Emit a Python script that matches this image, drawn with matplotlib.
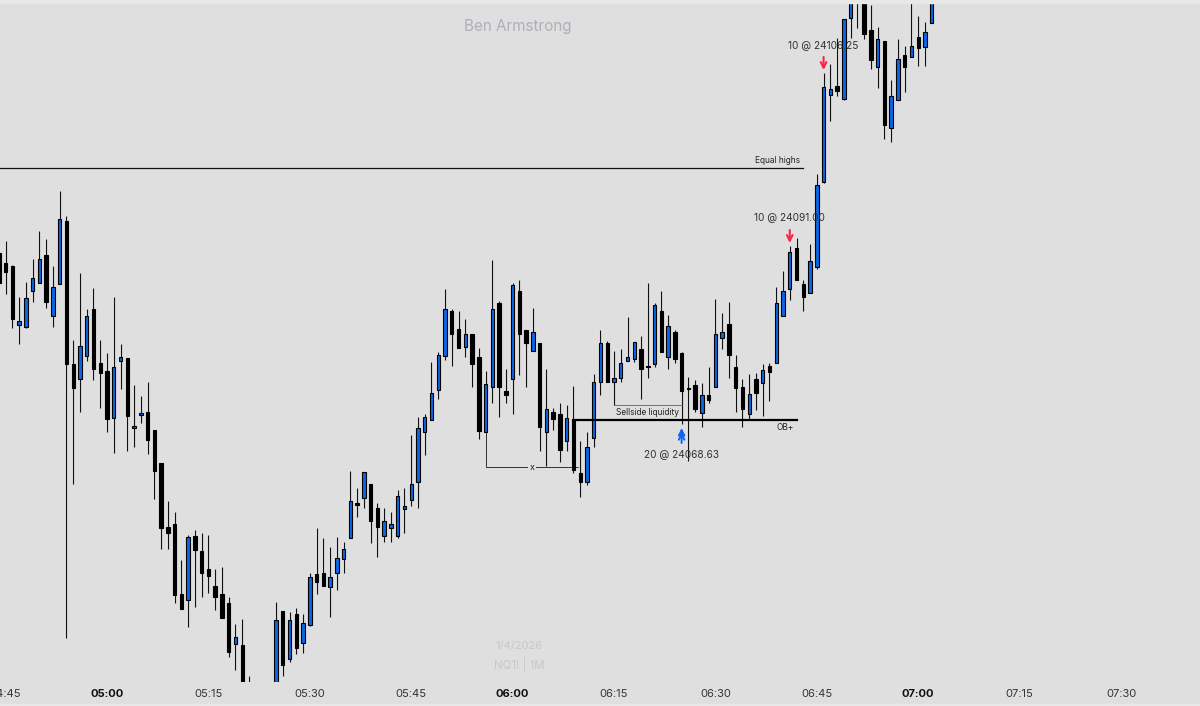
import matplotlib
matplotlib.use("Agg")
import matplotlib.pyplot as plt
import matplotlib.patheffects as pe
from matplotlib.patches import Rectangle

plt.rcParams['font.family'] = ['Inter', 'DejaVu Sans']

# Minutes since midnight. The minutes 322-324 are below the visible range.
bar_minute = list(range(284, 322)) + list(range(325, 423))

# 1 = up candle (blue), 0 = down candle (black)
bar_up = [
    0, 0, 0, 1, 1, 1, 1, 0, 1, 1, 0, 0, 1, 1, 0, 0,
    0, 1, 1, 0, 1, 1, 0, 0, 0, 0, 0, 0, 1, 0, 0, 0,
    0, 0, 0, 1, 0, 0,
    1, 0, 1, 0, 1, 1, 0, 0, 1, 1, 1, 1, 0, 1, 0, 0,
    1, 1, 1, 1, 1, 1, 1, 1, 1, 1, 0, 0, 1, 0, 0, 1,
    1, 0, 0, 1, 0, 0, 1, 0, 1, 0, 0, 1, 0, 0, 1, 1,
    1, 0, 1, 1, 1, 1, 0, 0, 1, 0, 1, 0, 0, 0, 0, 1,
    0, 1, 1, 0, 0, 0, 1, 0, 1, 0, 1, 1, 1, 0, 0, 1,
    1, 1, 1, 0, 1, 1, 0, 0, 0, 1, 0, 1, 1, 0, 1, 0, 1, 1,
]

# Levels are picture rows (smaller = higher price)
body_top = [
    253, 263, 266, 321, 298, 278, 259, 255, 287, 219, 221, 364, 346, 316, 309, 363,
    371, 367, 357, 358, 426, 413, 412, 430, 463, 527, 524, 594, 537, 536, 551, 569,
    586, 594, 603, 637, 645, 688,
    620, 611, 620, 614, 623, 577, 574, 573, 577, 558, 549, 501, 503, 472, 484, 508,
    521, 524, 496, 506, 484, 428, 417, 393, 355, 309, 311, 329, 334, 334, 357, 384,
    309, 303, 391, 285, 291, 330, 332, 343, 409, 412, 414, 418, 420, 473, 447, 382,
    343, 343, 378, 363, 357, 342, 349, 366, 305, 311, 326, 332, 353, 388, 385, 395,
    395, 334, 332, 324, 367, 387, 394, 379, 370, 366, 303, 291, 252, 248, 284, 261,
    185, 87, 89, 86, 19, -5, -20, -10, 30, 39, 41, 96, 59, 55, 46, 37, 32, -5,
]
body_bottom = [
    283, 272, 319, 325, 327, 291, 283, 302, 316, 284, 364, 388, 379, 356, 369, 373,
    419, 418, 361, 416, 428, 415, 440, 471, 528, 533, 595, 609, 600, 550, 573, 576,
    597, 618, 652, 644, 690, 700,
    690, 665, 659, 648, 643, 625, 582, 586, 587, 573, 559, 538, 505, 498, 521, 527,
    536, 528, 536, 509, 500, 482, 432, 420, 390, 356, 334, 348, 347, 364, 431, 432,
    387, 387, 395, 379, 334, 343, 351, 427, 432, 419, 450, 441, 470, 482, 482, 438,
    382, 382, 382, 378, 361, 359, 369, 367, 364, 352, 357, 359, 391, 389, 409, 413,
    400, 387, 338, 355, 388, 409, 414, 393, 383, 372, 363, 316, 289, 280, 297, 293,
    267, 182, 95, 91, 99, 18, -10, 34, 60, 67, 125, 128, 100, 67, 57, 48, 47, 23,
]
wick_high = [
    253, 241, 265, 297, 282, 259, 231, 239, 266, 191, 216, 340, 273, 309, 288, 340,
    353, 297, 344, 358, 385, 396, 382, 430, 463, 501, 512, 560, 535, 530, 533, 535,
    569, 567, 597, 624, 619, 676,
    602, 611, 612, 608, 614, 573, 528, 538, 547, 537, 542, 471, 488, 472, 484, 503,
    508, 512, 490, 488, 435, 417, 414, 362, 352, 289, 309, 311, 319, 334, 348, 371,
    260, 301, 369, 283, 280, 330, 308, 343, 369, 408, 403, 405, 386, 441, 432, 374,
    330, 341, 351, 349, 317, 342, 336, 283, 303, 291, 315, 330, 352, 377, 380, 383,
    367, 299, 313, 302, 355, 379, 374, 373, 364, 363, 287, 271, 246, 238, 280, 244,
    174, 73, 64, 38, 19, -15, -30, -20, 5, 27, 41, 80, 39, 46, -5, 16, 22, -15,
]
wick_low = [
    283, 294, 328, 344, 328, 302, 283, 308, 327, 284, 638, 484, 412, 361, 380, 408,
    432, 453, 389, 451, 447, 423, 454, 499, 549, 549, 603, 609, 627, 607, 597, 593,
    610, 618, 657, 670, 695, 705,
    700, 676, 662, 654, 653, 626, 594, 586, 617, 590, 573, 538, 517, 508, 543, 557,
    542, 542, 538, 533, 506, 508, 455, 420, 399, 360, 366, 348, 357, 387, 439, 432,
    403, 417, 403, 414, 375, 387, 351, 451, 466, 430, 462, 451, 473, 497, 485, 447,
    395, 382, 405, 382, 361, 362, 399, 378, 367, 352, 369, 363, 424, 461, 412, 427,
    403, 387, 349, 378, 412, 427, 419, 410, 416, 401, 363, 316, 300, 280, 311, 293,
    269, 183, 121, 96, 100, 38, 28, 39, 69, 88, 139, 142, 100, 92, 57, 66, 66, 23,
]

tick_minutes = [285, 300, 315, 330, 345, 360, 375, 390, 405, 420, 435, 450]
tick_labels = ['04:45', '05:00', '05:15', '05:30', '05:45', '06:00', '06:15',
               '06:30', '06:45', '07:00', '07:15', '07:30']
bold_ticks = ['05:00', '06:00', '07:00']

BG = '#dfdfdf'
BLUE = '#0a66e4'
halo = [pe.withStroke(linewidth=1.7, foreground='#ececec')]

fig = plt.figure(figsize=(12, 7.06), dpi=100, facecolor=BG)
ax = fig.add_axes([0, 24 / 706, 1, 679 / 706], facecolor=BG)
ax.set_xlim(284.17, 284.17 + 1200 / 6.76)
ax.set_ylim(682, 3)

# thin lighter strips along the top and bottom edges
fig.add_artist(Rectangle((0, 1 - 3 / 706), 1, 3 / 706, transform=fig.transFigure, color='#e8e8e8'))
fig.add_artist(Rectangle((0, 0), 1, 2 / 706, transform=fig.transFigure, color='#e8e8e8'))

# candles
wicks = ax.vlines(bar_minute, wick_high, wick_low, color='#111111', lw=0.85, zorder=2)
wicks.set_path_effects(halo)
heights = [b - t for t, b in zip(body_top, body_bottom)]
colors = [BLUE if u else 'black' for u in bar_up]
bars = ax.bar(bar_minute, heights, bottom=body_top, width=0.5, color=colors,
              edgecolor='black', linewidth=0.8, zorder=3)

# levels
ax.plot([284, 403], [168, 168], color='#111111', lw=0.9, zorder=4)
ax.plot([369, 402], [420, 420], color='black', lw=1.6, zorder=4)
ax.plot([375, 385], [405, 405], color='#6b5a5a', lw=0.6, zorder=4)
ax.plot([356, 356, 370], [432, 467, 467], color='#333333', lw=0.7, zorder=1)

ax.text(399.2, 161, 'Equal highs', ha='center', va='center', fontsize=6, color='#222222', zorder=6)
ax.text(380, 412.5, 'Sellside liquidity', ha='center', va='center', fontsize=6, color='#222222', zorder=6)
ax.text(400.3, 428, 'OB+', ha='center', va='center', fontsize=6, color='#222222', zorder=6)
ax.text(362.9, 468, 'x', ha='center', va='center', fontsize=6.5, color='#222222', zorder=6,
        bbox=dict(facecolor=BG, edgecolor='none', pad=1))

# fills
red_arrow = dict(arrowstyle='->', color='#fb2348', lw=1.5, mutation_scale=10, shrinkA=0, shrinkB=0)
blue_arrow = dict(arrowstyle='->', color='#0f62f5', lw=1.4, mutation_scale=10, shrinkA=0, shrinkB=0)
ax.annotate('', xy=(406, 70), xytext=(406, 57), zorder=7, arrowprops=red_arrow)
ax.annotate('', xy=(401, 243), xytext=(401, 230), zorder=7, arrowprops=red_arrow)
ax.annotate('', xy=(385, 428), xytext=(385, 443), zorder=7, arrowprops=blue_arrow)
ax.annotate('', xy=(385, 432), xytext=(385, 436), zorder=7, arrowprops=blue_arrow)

ax.text(406, 46, '10 @ 24106.25', ha='center', va='center', fontsize=7.3, color='#333333', zorder=8)
ax.text(401, 218, '10 @ 24091.00', ha='center', va='center', fontsize=7.3, color='#333333', zorder=8)
ax.text(385, 454.5, '20 @ 24068.63', ha='center', va='center', fontsize=7.3, color='#333333', zorder=8)

# watermark
ax.text(360.8, 26.5, 'Ben Armstrong', ha='center', va='center', fontsize=11, color='#aeb1b9', zorder=1)
ax.text(361, 645.5, '1/4/2026', ha='center', va='center', fontsize=8, color='#c8c8cc', zorder=1)
ax.text(361, 664.5, 'NQ1! | 1M', ha='center', va='center', fontsize=8.3, color='#c8c8cc', zorder=1)

ax.set_xticks(tick_minutes)
ax.set_xticklabels(tick_labels, color='#333333')
ax.tick_params(axis='x', length=0, pad=5, labelsize=8)
for lab in ax.get_xticklabels():
    if lab.get_text() in bold_ticks:
        lab.set_fontweight('bold')
        lab.set_color('#111111')
ax.set_yticks([])
for side in ax.spines.values():
    side.set_visible(False)

plt.savefig('out.png', dpi=100, facecolor=BG)
